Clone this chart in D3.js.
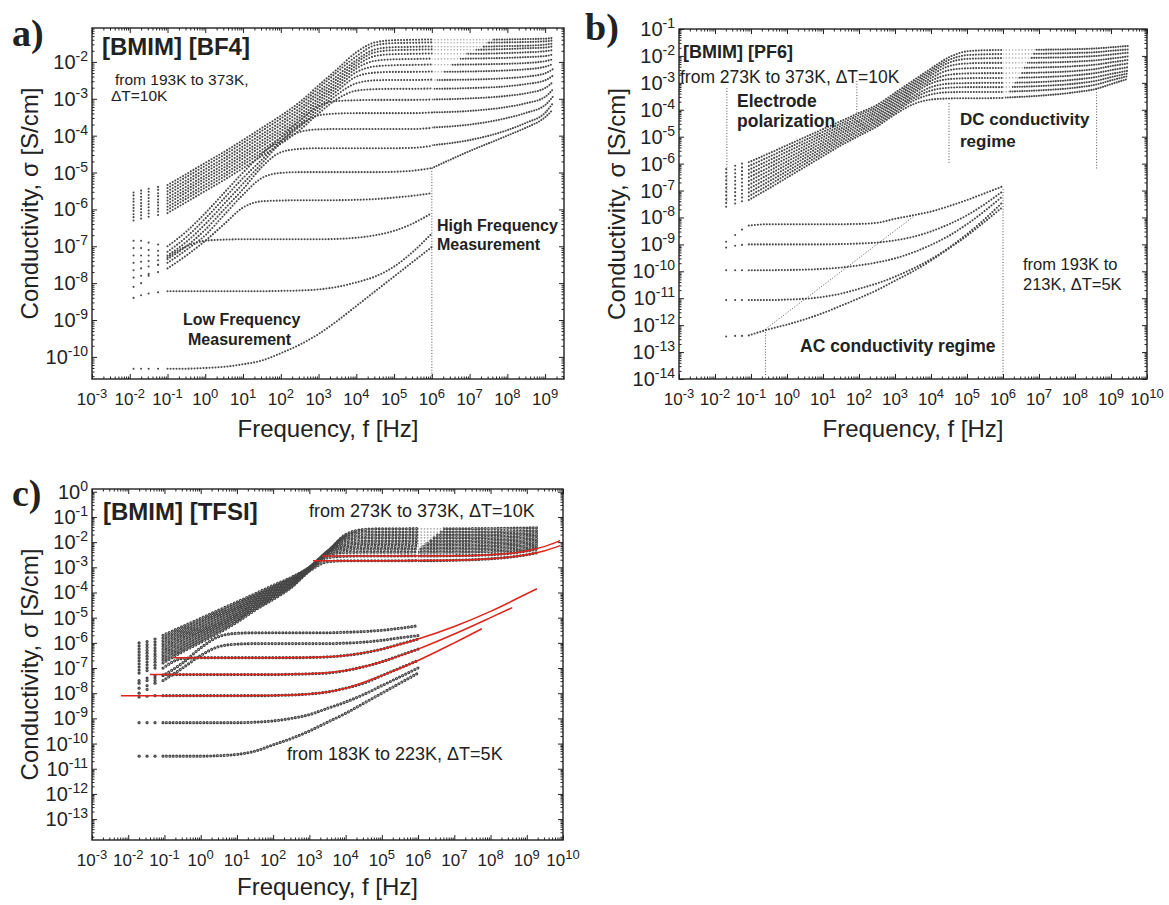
<!DOCTYPE html>
<html>
<head>
<meta charset="utf-8">
<title>Conductivity spectra of BMIM ionic liquids</title>
<script src="https://cdn.jsdelivr.net/npm/d3@7"></script>
<style>
  html, body { margin: 0; background: #fff; }
  svg { display: block; }
  text { font-family: "Liberation Sans", Arial, Helvetica, sans-serif; fill: #222; }
</style>
</head>
<body>
<svg id="fig" width="1169" height="905"></svg>
<script>
// ---------------------------------------------------------------------------
// Decade tick labels (log10 of the axis value)
// ---------------------------------------------------------------------------
const bf4FreqTicks  = [-3, -2, -1, 0, 1, 2, 3, 4, 5, 6, 7, 8, 9];
const bf4CondTicks  = [-10, -9, -8, -7, -6, -5, -4, -3, -2];
const pf6FreqTicks  = [-3, -2, -1, 0, 1, 2, 3, 4, 5, 6, 7, 8, 9, 10];
const pf6CondTicks  = [-14, -13, -12, -11, -10, -9, -8, -7, -6, -5, -4, -3, -2, -1];
const tfsiFreqTicks = [-3, -2, -1, 0, 1, 2, 3, 4, 5, 6, 7, 8, 9, 10];
const tfsiCondTicks = [-13, -12, -11, -10, -9, -8, -7, -6, -5, -4, -3, -2, -1, 0];

// ---------------------------------------------------------------------------
// (a) [BMIM][BF4], 373 K -> 193 K, dT = 10 K.  Values are log10(sigma / S cm^-1)
// ---------------------------------------------------------------------------
const bf4LowF  = [-1.9, -1.7, -1.5, -1.25, -1, -0.5, 0, 0.5, 1, 1.5, 2, 2.5, 3, 3.5, 4, 4.5, 5, 5.5, 6];
const bf4Low = [
  [-5.54,-5.49,-5.44,-5.39,-5.34,-5.04,-4.74,-4.44,-4.12,-3.79,-3.46,-3.09,-2.64,-2.19,-1.74,-1.47,-1.41,-1.40,-1.39],
  [-5.62,-5.57,-5.52,-5.47,-5.42,-5.12,-4.82,-4.52,-4.20,-3.87,-3.54,-3.17,-2.72,-2.27,-1.85,-1.55,-1.49,-1.48,-1.47],
  [-5.71,-5.66,-5.61,-5.56,-5.51,-5.21,-4.91,-4.61,-4.29,-3.96,-3.63,-3.26,-2.81,-2.37,-1.95,-1.66,-1.60,-1.59,-1.58],
  [-5.79,-5.74,-5.69,-5.64,-5.59,-5.29,-4.99,-4.69,-4.37,-4.04,-3.71,-3.34,-2.89,-2.45,-2.02,-1.74,-1.68,-1.67,-1.66],
  [-5.88,-5.83,-5.78,-5.73,-5.68,-5.38,-5.08,-4.78,-4.46,-4.13,-3.80,-3.43,-2.98,-2.53,-2.10,-1.84,-1.79,-1.78,-1.77],
  [-5.96,-5.91,-5.86,-5.81,-5.76,-5.46,-5.16,-4.86,-4.54,-4.21,-3.88,-3.51,-3.06,-2.61,-2.18,-1.97,-1.93,-1.92,-1.91],
  [-6.04,-5.99,-5.94,-5.89,-5.84,-5.54,-5.24,-4.94,-4.62,-4.29,-3.96,-3.59,-3.14,-2.69,-2.28,-2.12,-2.09,-2.08,-2.07],
  [-6.13,-6.08,-6.03,-5.98,-5.93,-5.63,-5.33,-5.03,-4.71,-4.38,-4.05,-3.68,-3.23,-2.78,-2.40,-2.29,-2.27,-2.27,-2.26],
  [-6.21,-6.16,-6.11,-6.06,-6.01,-5.71,-5.41,-5.11,-4.79,-4.46,-4.13,-3.76,-3.31,-2.88,-2.58,-2.50,-2.49,-2.49,-2.48],
  [-6.30,-6.25,-6.20,-6.15,-6.10,-5.80,-5.50,-5.20,-4.88,-4.55,-4.22,-3.85,-3.40,-3.00,-2.78,-2.74,-2.73,-2.73,-2.72],
  [-6.85,-6.85,-6.90,-6.95,-7.00,-6.60,-6.10,-5.55,-5.00,-4.50,-4.05,-3.60,-3.20,-3.06,-3.04,-3.03,-3.03,-3.03,-3.02],
  [-7.05,-7.05,-7.10,-7.12,-7.15,-6.75,-6.25,-5.70,-5.15,-4.65,-4.15,-3.72,-3.45,-3.40,-3.39,-3.39,-3.39,-3.39,-3.37],
  [-7.25,-7.25,-7.25,-7.25,-7.25,-6.88,-6.40,-5.85,-5.30,-4.75,-4.20,-3.90,-3.83,-3.82,-3.82,-3.82,-3.82,-3.82,-3.79],
  [-7.45,-7.42,-7.40,-7.38,-7.35,-7.00,-6.55,-6.00,-5.45,-4.85,-4.45,-4.36,-4.34,-4.34,-4.34,-4.34,-4.34,-4.33,-4.28],
  [-7.65,-7.60,-7.55,-7.50,-7.45,-7.10,-6.70,-6.15,-5.60,-5.15,-5.01,-4.99,-4.99,-4.99,-4.99,-4.99,-4.98,-4.95,-4.88],
  [-7.85,-7.80,-7.75,-7.70,-7.60,-7.25,-6.85,-6.40,-5.95,-5.78,-5.76,-5.75,-5.75,-5.75,-5.74,-5.72,-5.68,-5.63,-5.56],
  [-8.10,-8.00,-7.80,-7.50,-7.30,-7.00,-6.85,-6.82,-6.81,-6.81,-6.81,-6.81,-6.81,-6.80,-6.77,-6.70,-6.58,-6.38,-6.10],
  [-8.40,-8.33,-8.28,-8.25,-8.22,-8.22,-8.22,-8.22,-8.22,-8.22,-8.21,-8.20,-8.17,-8.10,-7.98,-7.82,-7.55,-7.15,-6.65],
  [-10.32,-10.32,-10.32,-10.32,-10.32,-10.32,-10.30,-10.27,-10.20,-10.10,-9.90,-9.67,-9.38,-9.02,-8.62,-8.22,-7.82,-7.42,-7.02]
];
const bf4HighF = [6, 7, 8, 8.5, 9, 9.2];
const bf4High = [
  [-1.40,-1.40,-1.39,-1.38,-1.37,-1.35],
  [-1.48,-1.48,-1.47,-1.46,-1.44,-1.42],
  [-1.59,-1.59,-1.57,-1.56,-1.53,-1.50],
  [-1.67,-1.67,-1.65,-1.63,-1.61,-1.58],
  [-1.78,-1.78,-1.76,-1.74,-1.71,-1.68],
  [-1.92,-1.91,-1.89,-1.87,-1.84,-1.80],
  [-2.08,-2.07,-2.05,-2.03,-1.98,-1.93],
  [-2.27,-2.26,-2.23,-2.20,-2.13,-2.06],
  [-2.49,-2.48,-2.44,-2.40,-2.31,-2.20],
  [-2.73,-2.71,-2.66,-2.60,-2.50,-2.38],
  [-3.02,-2.99,-2.92,-2.85,-2.71,-2.55],
  [-3.37,-3.33,-3.22,-3.12,-2.95,-2.75],
  [-3.78,-3.70,-3.52,-3.38,-3.17,-2.95],
  [-4.26,-4.12,-3.85,-3.65,-3.38,-3.13],
  [-4.88,-4.42,-4.00,-3.78,-3.50,-3.30]
];
// first frequency (log10 f) of the dense high-frequency sweep for each curve
const bf4HighStart = [7.6, 7.46, 7.33, 7.16, 6.9, 6.74, 6.52, 6.3, 6.13, 6.05, 6, 6, 6, 6, 6];

// ---------------------------------------------------------------------------
// (b) [BMIM][PF6]: 373 K -> 273 K (dT = 10 K) and 193 K -> 213 K (dT = 5 K)
// ---------------------------------------------------------------------------
const pf6LowF = [-1.69, -1.44, -1.25, -1.06, -0.5, 0, 0.5, 1, 1.5, 2, 2.5, 3, 3.5, 4, 4.5, 5, 5.5, 6];
const pf6Hot = [
  [-6.20,-6.08,-6.00,-5.95,-5.62,-5.32,-5.02,-4.72,-4.42,-4.12,-3.82,-3.37,-2.92,-2.47,-2.05,-1.83,-1.79,-1.78],
  [-6.34,-6.22,-6.14,-6.09,-5.75,-5.44,-5.13,-4.82,-4.51,-4.20,-3.90,-3.45,-3.00,-2.55,-2.15,-1.97,-1.94,-1.93],
  [-6.48,-6.36,-6.28,-6.23,-5.88,-5.56,-5.24,-4.92,-4.60,-4.29,-3.98,-3.53,-3.08,-2.63,-2.25,-2.11,-2.09,-2.08],
  [-6.62,-6.50,-6.42,-6.37,-6.01,-5.68,-5.35,-5.02,-4.69,-4.38,-4.06,-3.61,-3.16,-2.72,-2.38,-2.28,-2.26,-2.26],
  [-6.76,-6.64,-6.56,-6.51,-6.14,-5.80,-5.46,-5.12,-4.78,-4.46,-4.14,-3.69,-3.24,-2.82,-2.53,-2.46,-2.45,-2.45],
  [-6.90,-6.78,-6.70,-6.65,-6.27,-5.92,-5.57,-5.22,-4.87,-4.55,-4.22,-3.77,-3.32,-2.92,-2.70,-2.65,-2.64,-2.64],
  [-7.04,-6.92,-6.84,-6.79,-6.40,-6.04,-5.68,-5.32,-4.96,-4.63,-4.30,-3.85,-3.40,-3.02,-2.86,-2.83,-2.82,-2.82],
  [-7.18,-7.06,-6.98,-6.93,-6.53,-6.16,-5.79,-5.42,-5.05,-4.72,-4.38,-3.93,-3.50,-3.16,-3.03,-3.01,-3.00,-3.00],
  [-7.32,-7.20,-7.12,-7.07,-6.66,-6.28,-5.90,-5.52,-5.14,-4.80,-4.46,-4.01,-3.58,-3.29,-3.18,-3.16,-3.16,-3.16],
  [-7.46,-7.34,-7.26,-7.21,-6.79,-6.40,-6.01,-5.62,-5.23,-4.89,-4.54,-4.09,-3.67,-3.43,-3.35,-3.34,-3.34,-3.34],
  [-7.60,-7.48,-7.40,-7.35,-6.92,-6.52,-6.12,-5.72,-5.32,-4.97,-4.62,-4.17,-3.80,-3.62,-3.58,-3.57,-3.57,-3.56]
];
const pf6HighF = [6, 7, 8, 8.6, 9, 9.47];
const pf6HotHigh = [
  [-1.78,-1.77,-1.75,-1.72,-1.68,-1.63],
  [-1.93,-1.92,-1.89,-1.86,-1.81,-1.76],
  [-2.08,-2.07,-2.04,-2.00,-1.95,-1.88],
  [-2.26,-2.25,-2.21,-2.16,-2.10,-2.02],
  [-2.45,-2.43,-2.38,-2.32,-2.24,-2.15],
  [-2.64,-2.62,-2.56,-2.48,-2.38,-2.28],
  [-2.82,-2.79,-2.72,-2.63,-2.53,-2.42],
  [-3.00,-2.97,-2.88,-2.78,-2.67,-2.55],
  [-3.16,-3.12,-3.03,-2.92,-2.79,-2.65],
  [-3.33,-3.28,-3.18,-3.06,-2.91,-2.75],
  [-3.55,-3.48,-3.35,-3.22,-3.05,-2.85]
];
const pf6HotStart = [6.9, 6.83, 6.76, 6.67, 6.58, 6.5, 6.41, 6.32, 6.25, 6.16, 6.05];
const pf6Cold = [
  [-8.90,-8.65,-8.45,-8.30,-8.25,-8.25,-8.25,-8.25,-8.25,-8.24,-8.20,-8.05,-7.92,-7.78,-7.58,-7.35,-7.10,-6.84],
  [-9.12,-9.05,-9.02,-9.00,-9.00,-9.00,-9.00,-9.00,-8.99,-8.97,-8.93,-8.85,-8.72,-8.52,-8.25,-7.92,-7.50,-7.02],
  [-9.96,-9.96,-9.96,-9.96,-9.96,-9.95,-9.94,-9.91,-9.86,-9.78,-9.67,-9.52,-9.30,-9.02,-8.68,-8.25,-7.75,-7.20],
  [-11.07,-11.07,-11.07,-11.07,-11.07,-11.05,-11.02,-10.95,-10.83,-10.65,-10.45,-10.20,-9.90,-9.55,-9.12,-8.62,-8.05,-7.42],
  [-12.42,-12.40,-12.40,-12.38,-12.15,-11.98,-11.78,-11.55,-11.28,-11.00,-10.70,-10.35,-10.00,-9.60,-9.15,-8.68,-8.15,-7.60]
];
// dotted guide lines: [log f, top log sigma, bottom log sigma]
const pf6Guides = [[-1.67, -3.2, -7.4], [1.94, -2.93, -4.16], [4.5, -3.75, -6.02], [8.6, -3.23, -6.2],
                   [-0.6, -12.15, -14], [6, -6.95, -14]];
const pf6Slope = [[-0.6, -12.15], [3.55, -7.93]];

// ---------------------------------------------------------------------------
// (c) [BMIM][TFSI]: 373 K -> 273 K (dT = 10 K) and 223 K -> 183 K (dT = 5 K)
// ---------------------------------------------------------------------------
const tfsiLowF = [-1.7, -1.48, -1.26, -1.04, -0.5, 0, 0.5, 1, 1.5, 2, 2.5, 3, 3.5, 4, 4.5, 5, 5.5, 6];
const tfsiHot = [
  [-6.00,-5.95,-5.85,-5.70,-5.35,-5.03,-4.70,-4.38,-4.05,-3.72,-3.40,-3.00,-2.40,-1.70,-1.50,-1.47,-1.47,-1.46],
  [-6.12,-6.07,-5.97,-5.81,-5.45,-5.13,-4.79,-4.46,-4.12,-3.78,-3.44,-3.00,-2.38,-1.75,-1.61,-1.60,-1.60,-1.59],
  [-6.24,-6.18,-6.08,-5.92,-5.55,-5.22,-4.88,-4.54,-4.18,-3.83,-3.48,-3.01,-2.37,-1.82,-1.73,-1.72,-1.72,-1.71],
  [-6.36,-6.30,-6.20,-6.03,-5.65,-5.32,-4.97,-4.62,-4.25,-3.89,-3.52,-3.02,-2.37,-1.90,-1.84,-1.83,-1.83,-1.82],
  [-6.48,-6.41,-6.31,-6.14,-5.75,-5.41,-5.06,-4.70,-4.31,-3.94,-3.56,-3.03,-2.38,-2.00,-1.96,-1.95,-1.95,-1.94],
  [-6.60,-6.53,-6.43,-6.25,-5.85,-5.51,-5.15,-4.78,-4.38,-4.00,-3.60,-3.04,-2.40,-2.10,-2.06,-2.06,-2.06,-2.05],
  [-6.72,-6.64,-6.54,-6.36,-5.95,-5.60,-5.24,-4.86,-4.44,-4.05,-3.64,-3.06,-2.42,-2.20,-2.17,-2.17,-2.17,-2.16],
  [-6.84,-6.76,-6.66,-6.47,-6.05,-5.70,-5.33,-4.94,-4.51,-4.11,-3.68,-3.08,-2.46,-2.30,-2.28,-2.28,-2.28,-2.27],
  [-6.96,-6.87,-6.77,-6.58,-6.15,-5.79,-5.42,-5.02,-4.57,-4.16,-3.72,-3.10,-2.52,-2.41,-2.40,-2.40,-2.40,-2.39],
  [-7.08,-6.99,-6.89,-6.69,-6.25,-5.89,-5.51,-5.10,-4.64,-4.22,-3.76,-3.12,-2.62,-2.56,-2.55,-2.55,-2.55,-2.54],
  [-7.20,-7.10,-7.00,-6.80,-6.35,-5.98,-5.60,-5.18,-4.70,-4.27,-3.80,-3.15,-2.78,-2.74,-2.74,-2.74,-2.74,-2.73]
];
const tfsiHighF = [6, 7, 8, 8.5, 9, 9.28];
const tfsiHotHigh = [
  [-1.47,-1.47,-1.46,-1.45,-1.44,-1.43],
  [-1.60,-1.60,-1.59,-1.58,-1.56,-1.55],
  [-1.72,-1.72,-1.71,-1.69,-1.67,-1.65],
  [-1.83,-1.83,-1.82,-1.80,-1.77,-1.75],
  [-1.95,-1.95,-1.93,-1.91,-1.88,-1.85],
  [-2.06,-2.06,-2.04,-2.02,-1.98,-1.95],
  [-2.17,-2.17,-2.15,-2.12,-2.08,-2.04],
  [-2.28,-2.28,-2.26,-2.23,-2.18,-2.13],
  [-2.40,-2.40,-2.37,-2.34,-2.28,-2.22],
  [-2.55,-2.54,-2.50,-2.45,-2.35,-2.28],
  [-2.74,-2.72,-2.66,-2.60,-2.50,-2.42]
];
const tfsiHotStart = [6.69, 6.6, 6.5, 6.4, 6.3, 6.2, 6.1, 6.03, 6, 6, 6];
const tfsiCold = [
  [-7.60,-7.50,-7.40,-7.30,-6.80,-6.20,-5.75,-5.62,-5.60,-5.60,-5.60,-5.60,-5.60,-5.58,-5.55,-5.50,-5.42,-5.32],
  [-7.80,-7.70,-7.60,-7.50,-7.00,-6.50,-6.15,-6.05,-6.03,-6.03,-6.03,-6.03,-6.03,-6.01,-5.97,-5.90,-5.80,-5.71],
  [-8.00,-7.85,-7.50,-7.00,-6.62,-6.59,-6.59,-6.59,-6.59,-6.59,-6.59,-6.58,-6.56,-6.50,-6.40,-6.25,-6.05,-5.85],
  [-7.50,-7.40,-7.30,-7.27,-7.26,-7.26,-7.26,-7.26,-7.26,-7.26,-7.25,-7.23,-7.20,-7.10,-6.95,-6.75,-6.50,-6.25],
  [-8.15,-8.12,-8.10,-8.10,-8.10,-8.10,-8.10,-8.10,-8.10,-8.09,-8.07,-8.03,-7.95,-7.80,-7.60,-7.30,-7.00,-6.70],
  [-9.17,-9.17,-9.17,-9.17,-9.17,-9.17,-9.17,-9.17,-9.15,-9.10,-9.00,-8.85,-8.60,-8.35,-8.05,-7.70,-7.35,-7.00],
  [-10.50,-10.50,-10.50,-10.50,-10.50,-10.50,-10.48,-10.43,-10.30,-10.05,-9.80,-9.50,-9.15,-8.80,-8.40,-8.00,-7.60,-7.20]
];
// model fits (red): frequency nodes and fitted log sigma
const tfsiFitF = [
  [3.35, 5, 7, 8, 8.5, 9, 9.5, 9.92],
  [3.1, 5, 7, 8, 8.5, 9, 9.5, 9.92],
  [-0.76, 0, 1, 2, 3, 4, 5, 6, 7, 8, 9, 9.28],
  [-1.4, 0, 1, 2, 3, 4, 5, 6, 7, 8, 8.6],
  [-2.2, 0, 1, 2, 3, 4, 5, 6, 7, 7.76]
];
const tfsiFitS = [
  [-2.55, -2.55, -2.54, -2.50, -2.45, -2.35, -2.17, -1.94],
  [-2.74, -2.74, -2.72, -2.66, -2.60, -2.50, -2.34, -2.14],
  [-6.59, -6.59, -6.59, -6.59, -6.58, -6.50, -6.25, -5.85, -5.35, -4.75, -4.05, -3.85],
  [-7.26, -7.26, -7.26, -7.26, -7.23, -7.10, -6.75, -6.25, -5.65, -5.00, -4.60],
  [-8.10, -8.10, -8.10, -8.09, -8.03, -7.80, -7.30, -6.70, -6.00, -5.44]
];

// ---------------------------------------------------------------------------
// drawing helpers
// ---------------------------------------------------------------------------
const svg = d3.select("#fig");
const defs = svg.append("defs");
const p10 = v => Math.pow(10, v);

// hollow-circle markers: erode each dot and keep only its rim
const ring = defs.append("filter").attr("id", "ring").attr("filterUnits", "userSpaceOnUse")
  .attr("x", 0).attr("y", 0).attr("width", 1169).attr("height", 905);
ring.append("feMorphology").attr("in", "SourceAlpha").attr("operator", "erode").attr("radius", 1).attr("result", "hole");
ring.append("feComposite").attr("in", "SourceGraphic").attr("in2", "hole").attr("operator", "out");

let clipCount = 0;
function clip(x0, x1, y0, y1) {
  const id = "clip" + (clipCount++);
  defs.append("clipPath").attr("id", id).append("rect")
    .attr("x", x0).attr("y", y0).attr("width", Math.max(0, x1 - x0)).attr("height", y1 - y0);
  return `url(#${id})`;
}

function makePanel(box, fDom, sDom) {
  const x = d3.scaleLog().domain([p10(fDom[0]), p10(fDom[1])]).range([box.l, box.r]);
  const y = d3.scaleLog().domain([p10(sDom[0]), p10(sDom[1])]).range([box.b, box.t]);
  const root = svg.append("g");
  const plot = root.append("g").attr("clip-path", clip(box.l, box.r, box.t, box.b));
  return { box, x, y, root, plot, fDom, sDom };
}

function minorTicks(d0, d1) {
  const out = [];
  for (let k = Math.floor(d0); k <= Math.ceil(d1); k++)
    for (let m = 2; m <= 9; m++) {
      const v = m * p10(k), lv = Math.log10(v);
      if (lv > d0 + 1e-6 && lv < d1 - 1e-6) out.push(v);
    }
  return out;
}

function frame(P, fTicks, sTicks) {
  const { box, x, y, root } = P;
  const axes = root.append("g");
  const put = (gen, tx, ty) => {
    const a = axes.append("g").attr("transform", `translate(${tx},${ty})`).call(gen);
    a.select(".domain").remove();
    a.selectAll("text").remove();
    a.selectAll("line").attr("stroke", "#222").attr("stroke-width", 1);
  };
  const majX = fTicks.map(p10), majY = sTicks.map(p10);
  const minX = minorTicks(P.fDom[0], P.fDom[1]), minY = minorTicks(P.sDom[0], P.sDom[1]);
  [[majX, -5], [minX, -2.5]].forEach(([v, s]) => {
    put(d3.axisBottom(x).tickValues(v).tickSize(s).tickSizeOuter(0).tickFormat(""), 0, box.b);
    put(d3.axisTop(x).tickValues(v).tickSize(s).tickSizeOuter(0).tickFormat(""), 0, box.t);
  });
  [[majY, -5], [minY, -2.5]].forEach(([v, s]) => {
    put(d3.axisLeft(y).tickValues(v).tickSize(s).tickSizeOuter(0).tickFormat(""), box.l, 0);
    put(d3.axisRight(y).tickValues(v).tickSize(s).tickSizeOuter(0).tickFormat(""), box.r, 0);
  });
  axes.append("rect").attr("x", box.l).attr("y", box.t)
    .attr("width", box.r - box.l).attr("height", box.b - box.t)
    .attr("fill", "none").attr("stroke", "#222").attr("stroke-width", 1.4);

  fTicks.forEach(k => {
    const t = axes.append("text").attr("x", x(p10(k))).attr("y", box.b + 26)
      .attr("text-anchor", "middle").attr("font-size", 17);
    t.append("tspan").text("10");
    t.append("tspan").attr("font-size", 13).attr("dy", -7).text(k);
  });
  sTicks.forEach(k => {
    const t = axes.append("text").attr("x", box.l - 4).attr("y", y(p10(k)) + 7)
      .attr("text-anchor", "end").attr("font-size", 20);
    t.append("tspan").text("10");
    t.append("tspan").attr("font-size", 14).attr("dy", -8).text(k);
  });
}

function titles(P, xBase, yBase) {
  const { box, root } = P;
  root.append("text").attr("x", (box.l + box.r) / 2).attr("y", xBase)
    .attr("text-anchor", "middle").attr("font-size", 24).text("Frequency, f [Hz]");
  root.append("text").attr("transform", `translate(${yBase},${(box.t + box.b) / 2}) rotate(-90)`)
    .attr("text-anchor", "middle").attr("font-size", 24).text("Conductivity, σ [S/cm]");
}

// one measured spectrum: isolated markers below `dense`, a dotted marker trace above it
function trace(P, F, S, o) {
  const { x, y } = P;
  const grp = P.plot.append("g");
  if (o.from !== undefined) grp.attr("clip-path", clip(x(p10(o.from)), x(p10(o.to)), P.box.t, P.box.b));
  const inner = grp.append("g");
  if (o.ring) inner.attr("filter", "url(#ring)");
  const pts = F.map((f, i) => [f, S[i]]);
  const lead = pts.filter(p => p[0] < o.dense - 1e-9);
  const run = pts.filter(p => p[0] >= o.dense - 1e-9);
  inner.selectAll("circle").data(lead).join("circle")
    .attr("cx", p => x(p10(p[0]))).attr("cy", p => y(p10(p[1])))
    .attr("r", o.w / 2).attr("fill", o.color);
  const line = d3.line().x(p => x(p10(p[0]))).y(p => y(p10(p[1]))).curve(d3.curveMonotoneX);
  inner.append("path").attr("d", line(run)).attr("fill", "none")
    .attr("stroke", o.color).attr("stroke-width", o.w)
    .attr("stroke-linecap", "round").attr("stroke-dasharray", `0 ${o.gap}`);
}

function fitLine(P, F, S) {
  const line = d3.line().x(f => P.x(p10(f))).y((f, i) => P.y(p10(S[i]))).curve(d3.curveMonotoneX);
  P.plot.append("path").attr("d", line(F)).attr("fill", "none")
    .attr("stroke", "#e0241b").attr("stroke-width", 1.5);
}

function guide(P, pts) {
  const line = d3.line().x(p => P.x(p10(p[0]))).y(p => P.y(p10(p[1])));
  P.plot.append("path").attr("d", line(pts)).attr("fill", "none")
    .attr("stroke", "#555").attr("stroke-width", 1).attr("stroke-dasharray", "1 1.8");
}

function label(P, items) {
  items.forEach(([tx, ty, str, size, bold]) => {
    P.root.append("text").attr("x", tx).attr("y", ty).attr("font-size", size)
      .attr("font-weight", bold ? "bold" : "normal").text(str);
  });
}

function letter(tx, ty, str) {
  svg.append("text").attr("x", tx).attr("y", ty).attr("font-size", 38).attr("font-weight", "bold")
    .style("font-family", '"Liberation Serif", "Times New Roman", serif').text(str);
}

const DOT = "#4a4a4a";

// ---------------------------------------------------------------------------
// (a) [BMIM][BF4]
// ---------------------------------------------------------------------------
const A = makePanel({ l: 92, r: 564, t: 28, b: 379 }, [-3, 9.5], [-10.6, -1.08]);
guide(A, [[6, bf4High[14][0]], [6, -10.6]]);
bf4Low.forEach(s => trace(A, bf4LowF, s, { dense: -1, color: DOT, w: 2.1, gap: 3 }));
bf4High.forEach((s, i) => {
  trace(A, bf4HighF, s, { dense: 6, color: "#aaa", w: 1.6, gap: 3.2, from: 6, to: bf4HighStart[i] });
  trace(A, bf4HighF, s, { dense: 6, color: DOT, w: 2.1, gap: 2.6, from: bf4HighStart[i], to: 9.5 });
});
frame(A, bf4FreqTicks, bf4CondTicks);
titles(A, 437, 38);
label(A, [
  [102, 55, "[BMIM] [BF4]", 24, true],
  [115, 85, "from 193K to 373K,", 15.5, false],
  [111, 101, "ΔT=10K", 15.5, false],
  [183, 325, "Low Frequency", 16, true],
  [188, 345, "Measurement", 16, true],
  [437, 231, "High Frequency", 16, true],
  [437, 250, "Measurement", 16, true]
]);
letter(12, 46, "a)");

// ---------------------------------------------------------------------------
// (b) [BMIM][PF6]
// ---------------------------------------------------------------------------
const B = makePanel({ l: 679, r: 1147, t: 29, b: 379 }, [-3, 10], [-14, -1]);
pf6Guides.forEach(g => guide(B, [[g[0], g[1]], [g[0], g[2]]]));
guide(B, pf6Slope);
pf6Hot.forEach(s => trace(B, pf6LowF, s, { dense: -1.06, color: DOT, w: 2.1, gap: 2.8 }));
pf6HotHigh.forEach((s, i) => {
  trace(B, pf6HighF, s, { dense: 6, color: "#aaa", w: 1.6, gap: 3.2, from: 6, to: pf6HotStart[i] });
  trace(B, pf6HighF, s, { dense: 6, color: DOT, w: 2.1, gap: 2.4, from: pf6HotStart[i], to: 10 });
});
pf6Cold.forEach(s => trace(B, pf6LowF, s, { dense: -1.06, color: DOT, w: 2.1, gap: 3 }));
frame(B, pf6FreqTicks, pf6CondTicks);
titles(B, 437, 625);
label(B, [
  [683, 58, "[BMIM] [PF6]", 18, true],
  [680, 83, "from 273K to 373K, ΔT=10K", 17.5, false],
  [737, 107, "Electrode", 17.5, true],
  [737, 127, "polarization", 17.5, true],
  [960, 125, "DC conductivity", 17, true],
  [960, 147, "regime", 17, true],
  [800, 352, "AC conductivity regime", 17.5, true],
  [1023, 270, "from 193K to", 16.5, false],
  [1023, 290, "213K, ΔT=5K", 16.5, false]
]);
letter(585, 40, "b)");

// ---------------------------------------------------------------------------
// (c) [BMIM][TFSI]
// ---------------------------------------------------------------------------
const C = makePanel({ l: 92, r: 563, t: 489, b: 840 }, [-3, 10], [-13.83, 0.11]);
tfsiHot.forEach(s => trace(C, tfsiLowF, s, { dense: -1.04, color: "#444", w: 3.2, gap: 3.4, ring: true }));
tfsiHotHigh.forEach((s, i) => {
  trace(C, tfsiHighF, s, { dense: 6, color: "#aaa", w: 1.8, gap: 3.2, from: 6, to: tfsiHotStart[i] });
  trace(C, tfsiHighF, s, { dense: 6, color: "#444", w: 3.2, gap: 3.2, from: tfsiHotStart[i], to: 10, ring: true });
});
tfsiCold.forEach(s => trace(C, tfsiLowF, s, { dense: -1.04, color: "#444", w: 3.2, gap: 3.4, ring: true }));
tfsiFitF.forEach((F, i) => fitLine(C, F, tfsiFitS[i]));
frame(C, tfsiFreqTicks, tfsiCondTicks);
titles(C, 895, 38);
label(C, [
  [103, 520, "[BMIM] [TFSI]", 24, true],
  [309, 517, "from 273K to 373K, ΔT=10K", 18, false],
  [287, 760, "from 183K to 223K, ΔT=5K", 18, false]
]);
letter(12, 506, "c)");
</script>
</body>
</html>
